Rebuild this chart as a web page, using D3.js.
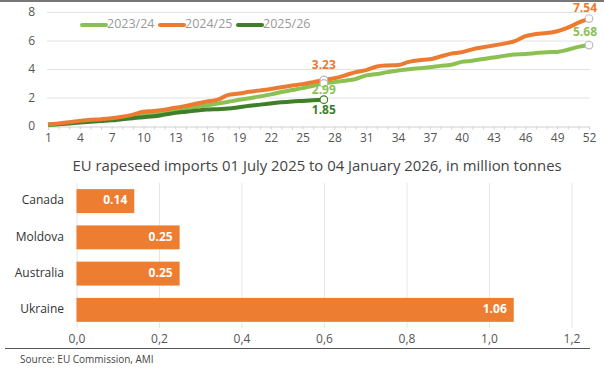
<!DOCTYPE html>
<html><head><meta charset="utf-8">
<script src="https://cdn.jsdelivr.net/npm/d3@7"></script>
<style>
html,body{margin:0;padding:0;background:#fff;}
svg{display:block;font-family:"Open Sans",sans-serif;}
</style></head>
<body><svg id="c" width="604" height="372"></svg>
<script>
const weeks = d3.range(1, 53);
const weekTicks = [1,4,7,10,13,16,19,22,25,28,31,34,37,40,43,46,49,52];
const yTicks = [0,2,4,6,8];
const s2324 = [0.08,0.14,0.22,0.30,0.36,0.40,0.46,0.55,0.66,0.78,0.88,1.00,1.10,1.22,1.35,1.45,1.58,1.70,1.84,1.95,2.08,2.22,2.38,2.52,2.66,2.82,2.99,3.08,3.18,3.30,3.55,3.65,3.78,3.90,3.98,4.05,4.12,4.22,4.30,4.50,4.58,4.70,4.80,4.92,5.02,5.05,5.12,5.18,5.20,5.35,5.55,5.68];
const s2425 = [0.10,0.18,0.26,0.36,0.44,0.48,0.55,0.65,0.80,1.00,1.05,1.15,1.28,1.40,1.58,1.72,1.85,2.18,2.28,2.40,2.50,2.60,2.72,2.84,2.94,3.08,3.23,3.35,3.55,3.78,3.92,4.18,4.25,4.28,4.50,4.62,4.68,4.88,5.08,5.18,5.38,5.52,5.65,5.78,5.95,6.30,6.45,6.52,6.65,6.90,7.25,7.54];
const s2526 = [0.08,0.12,0.18,0.24,0.30,0.35,0.40,0.48,0.55,0.62,0.68,0.80,0.92,1.00,1.08,1.15,1.18,1.22,1.32,1.42,1.50,1.58,1.66,1.72,1.76,1.80,1.85];
const seriesNames = ["2023/24","2024/25","2025/26"];
const seriesColors = ["#8cc152","#ec7a30","#3f7f2a"];

const countries = ["Canada","Moldova","Australia","Ukraine"];
const imports = [0.14,0.25,0.25,1.06];
const xBarTicks = [0,0.2,0.4,0.6,0.8,1.0,1.2];
const title = "EU rapeseed imports 01 July 2025 to 04 January 2026, in million tonnes";
const source = "Source: EU Commission, AMI";

const svg = d3.select("#c");
svg.append("rect").attr("x",0).attr("y",0).attr("width",604).attr("height",2).attr("fill","#777");

// ---- line chart
const x = d3.scaleLinear().domain([1,52]).range([48,589]);
const y = d3.scaleLinear().domain([0,8]).range([126,12]);
const gy = svg.append("g").attr("transform","translate(47,0)")
  .call(d3.axisLeft(y).tickValues(yTicks).tickSize(-543).tickPadding(12).tickFormat(d3.format("d")));
gy.select(".domain").remove();
gy.selectAll(".tick line").attr("stroke","#e2e2e2").attr("stroke-width",1);
gy.selectAll(".tick text").attr("fill","#555").attr("font-size",12).attr("font-family","Open Sans");
gy.selectAll(".tick").filter(d=>d===0).select("line").remove();

const gx = svg.append("g").attr("transform","translate(0,126.5)")
  .call(d3.axisBottom(x).tickValues(weeks).tickSize(3).tickPadding(4).tickFormat(d=>weekTicks.includes(d)?d:""));
gx.select(".domain").attr("stroke","#d0d0d0");
gx.selectAll(".tick line").attr("stroke","#d0d0d0");
gx.selectAll(".tick text").attr("fill","#555").attr("font-size",12).attr("font-family","Open Sans");

const line = d3.line().x((d,i)=>x(i+1)).y(d=>y(d)).curve(d3.curveMonotoneX);
const allSeries = [s2324, s2425, s2526];
[0,2,1].forEach(k=>{
  svg.append("path").datum(allSeries[k]).attr("d",line).attr("fill","none")
    .attr("stroke",seriesColors[k]).attr("stroke-width",4).attr("stroke-linejoin","round");
});

// end markers & labels
const marks = [
  {s:1, w:27, dy:-14},
  {s:0, w:27, dy:7.5},
  {s:2, w:27, dy:11.5},
  {s:1, w:52, dy:-9.5},
  {s:0, w:52, dy:-12}
];
marks.forEach(m=>{
  const v = allSeries[m.s][m.w-1];
  svg.append("circle").attr("cx",x(m.w)).attr("cy",y(v)).attr("r",3.8)
    .attr("fill","#fff").attr("stroke",m.s===2?"#3f7f2a":"#bbb").attr("stroke-width",1.2);
});
marks.forEach(m=>{
  const v = allSeries[m.s][m.w-1];
  svg.append("text").attr("x",m.w===52?x(m.w)-4:x(m.w)).attr("y",y(v)+m.dy)
    .attr("text-anchor","middle").attr("dominant-baseline","middle")
    .attr("font-size",12).attr("font-weight","bold").attr("fill",seriesColors[m.s])
    .text(v.toFixed(2));
});

// legend
const lg = svg.append("g");
const legendX = [82,160,238];
seriesNames.forEach((n,i)=>{
  lg.append("line").attr("x1",legendX[i]).attr("x2",legendX[i]+24).attr("y1",25).attr("y2",25)
    .attr("stroke",seriesColors[i]).attr("stroke-width",4).attr("stroke-linecap","round");
  lg.append("text").attr("x",legendX[i]+25).attr("y",25).attr("dominant-baseline","middle")
    .attr("font-size",12.5).attr("fill","#999").text(n);
});

// ---- bar chart
svg.append("text").attr("x",317).attr("y",171).attr("text-anchor","middle")
  .attr("font-size",14.9).attr("fill","#444").text(title);

const xb = d3.scaleLinear().domain([0,1.2]).range([76.5,571.5]);
const yb = d3.scaleBand().domain(countries).range([183,328]).paddingInner(0.34).paddingOuter(0.17);
const gbx = svg.append("g").attr("transform","translate(0,183)")
  .call(d3.axisBottom(xb).tickValues(xBarTicks).tickSize(145).tickPadding(6).tickFormat(d3.format(".1f")));
gbx.select(".domain").remove();
gbx.selectAll(".tick line").attr("stroke","#e6e6e6");
gbx.selectAll(".tick text").attr("fill","#555").attr("font-size",12).attr("font-family","Open Sans")
  .text(d=>d3.format(".1f")(d).replace(".",","));

svg.append("g").selectAll("rect").data(countries).join("rect")
  .attr("x",xb(0)).attr("y",d=>yb(d)).attr("height",yb.bandwidth())
  .attr("width",(d,i)=>xb(imports[i])-xb(0)).attr("fill","#ed7d31");
svg.append("g").selectAll("text").data(countries).join("text")
  .attr("x",(d,i)=>xb(imports[i])-7).attr("y",d=>yb(d)+yb.bandwidth()/2)
  .attr("text-anchor","end").attr("dominant-baseline","middle")
  .attr("font-size",12).attr("font-weight","bold").attr("fill","#fff")
  .text((d,i)=>imports[i].toFixed(2));
svg.append("g").selectAll("text").data(countries).join("text")
  .attr("x",64).attr("y",d=>yb(d)+yb.bandwidth()/2)
  .attr("text-anchor","end").attr("dominant-baseline","middle")
  .attr("font-size",12).attr("fill","#333").text(d=>d);

svg.append("line").attr("x1",5).attr("x2",590).attr("y1",348.5).attr("y2",348.5)
  .attr("stroke","#555").attr("stroke-width",1.2);
svg.append("text").attr("x",20).attr("y",363).attr("font-size",10).attr("fill","#444").text(source);
</script></body></html>
